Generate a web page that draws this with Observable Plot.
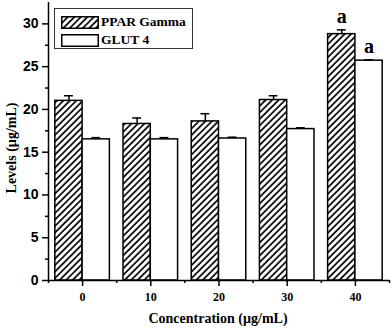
<!DOCTYPE html>
<html>
<head>
<meta charset="utf-8">
<script src="https://cdn.jsdelivr.net/npm/d3@7"></script>
<script src="https://cdn.jsdelivr.net/npm/@observablehq/plot@0.6"></script>
<style>
  html, body { margin: 0; padding: 0; background: #fff; }
  #wrap { position: relative; width: 392px; height: 329px; }
  #legend {
    position: absolute; left: 54px; top: 8px; width: 139px; height: 41px;
    border: 1px solid #333; box-sizing: border-box; background: #fff;
    font-family: "Liberation Serif", "Times New Roman", serif; font-weight: bold; font-size: 13.5px;
  }
  .item { position: absolute; left: 6px; display: flex; align-items: center; }
  .item svg { margin-right: 2px; }
</style>
</head>
<body>
<div id="wrap"></div>
<script>
const concentrations = [0, 10, 20, 30, 40];
const seriesNames = ["PPAR Gamma", "GLUT 4"];
const pparMean = [21.0, 18.3, 18.6, 21.1, 28.8];
const pparErr  = [0.6, 0.7, 0.9, 0.5, 0.5];
const glutMean = [16.5, 16.5, 16.6, 17.7, 25.7];
const glutErr  = [0.2, 0.2, 0.15, 0.15, 0.1];
const pparSig  = ["", "", "", "", "a"];
const glutSig  = ["", "", "", "", "a"];
const yTicks = [0, 5, 10, 15, 20, 25, 30];
const xTicks = [0, 10, 20, 30, 40];

const halfBand = 4; // bar width in x units
const rows = [];
concentrations.forEach((c, i) => {
  rows.push({series: seriesNames[0], x1: c - halfBand, x2: c, cx: c - halfBand / 2, v: pparMean[i], e: pparErr[i], sig: pparSig[i]});
  rows.push({series: seriesNames[1], x1: c, x2: c + halfBand, cx: c + halfBand / 2, v: glutMean[i], e: glutErr[i], sig: glutSig[i]});
});
const minorY = yTicks.slice(0, -1).map(t => t + 2.5);
const minorX = concentrations.map(c => c - 5).concat([concentrations[concentrations.length - 1] + 5]);

const serif = "'Liberation Serif', 'Times New Roman', serif";
const sans = "'Liberation Sans', Arial, sans-serif";

const chart = Plot.plot({
  width: 392, height: 329,
  marginLeft: 48, marginRight: 3, marginTop: 2, marginBottom: 49,
  x: {domain: [-5, 45]},
  y: {domain: [0, 32.5]},
  style: {background: "#fff", color: "#000"},
  marks: [
    Plot.rectY(rows, {
      x1: "x1", x2: "x2", y1: 0, y2: "v",
      fill: d => d.series === seriesNames[0] ? "url(#hatch)" : "#fff",
      stroke: "#000", strokeWidth: 1.5
    }),
    Plot.ruleX(rows, {x: "cx", y1: "v", y2: d => d.v + d.e, stroke: "#000", strokeWidth: 1.5}),
    Plot.ruleY(rows, {y: d => d.v + d.e, x1: d => d.cx - 0.65, x2: d => d.cx + 0.65, stroke: "#000", strokeWidth: 1.5}),
    Plot.text(rows.filter(d => d.sig), {
      x: "cx", y: d => d.v + d.e, text: "sig", dy: -13,
      fontFamily: serif, fontWeight: "bold", fontSize: 20, fill: "#000"
    }),
    Plot.axisY({ticks: yTicks, tickSize: 6, tickPadding: 4, fontFamily: sans, fontWeight: "bold", fontSize: 14, strokeWidth: 1.5, label: null}),
    Plot.axisY({ticks: minorY, tickSize: 3, text: null, strokeWidth: 1.5, label: null}),
    Plot.axisX({ticks: xTicks, tickSize: 6, tickPadding: 6, fontFamily: serif, fontWeight: "bold", fontSize: 12, strokeWidth: 1.5, label: null}),
    Plot.axisX({ticks: minorX, tickSize: 3, text: null, strokeWidth: 1.5, label: null}),
    Plot.ruleX([-5], {stroke: "#000", strokeWidth: 1.5}),
    Plot.ruleY([0], {stroke: "#000", strokeWidth: 1.5}),
  ]
});

d3.select(chart).insert("defs", ":first-child").html(`
  <pattern id="hatch" patternUnits="userSpaceOnUse" width="4.6" height="4.6" patternTransform="rotate(45)">
    <rect width="4.6" height="4.6" fill="#fff"></rect>
    <line x1="1" y1="0" x2="1" y2="4.6" stroke="#000" stroke-width="1.7"></line>
  </pattern>`);

// axis titles
d3.select(chart).append("text")
  .attr("x", 218).attr("y", 323).attr("text-anchor", "middle")
  .attr("font-family", serif).attr("font-weight", "bold").attr("font-size", 14)
  .text("Concentration (µg/mL)");
d3.select(chart).append("text")
  .attr("transform", "translate(16,148) rotate(-90)").attr("text-anchor", "middle")
  .attr("font-family", serif).attr("font-weight", "bold").attr("font-size", 14)
  .text("Levels (µg/mL)");

const wrap = document.getElementById("wrap");
wrap.appendChild(chart);

const legend = document.createElement("div");
legend.id = "legend";
legend.innerHTML = `
  <div class="item" style="top:5px">
    <svg width="38" height="13"><defs>
      <pattern id="hatchL" patternUnits="userSpaceOnUse" width="4.6" height="4.6" patternTransform="rotate(45)">
        <rect width="4.6" height="4.6" fill="#fff"></rect>
        <line x1="1" y1="0" x2="1" y2="4.6" stroke="#000" stroke-width="1.7"></line>
      </pattern></defs>
      <rect x="0.75" y="0.75" width="36.5" height="11.5" fill="url(#hatchL)" stroke="#000" stroke-width="1.5"></rect></svg>
    <span>${seriesNames[0]}</span></div>
  <div class="item" style="top:23px">
    <svg width="38" height="13"><rect x="0.75" y="0.75" width="36.5" height="11.5" fill="#fff" stroke="#000" stroke-width="1.5"></rect></svg>
    <span>${seriesNames[1]}</span></div>`;
wrap.appendChild(legend);
</script>
</body>
</html>
